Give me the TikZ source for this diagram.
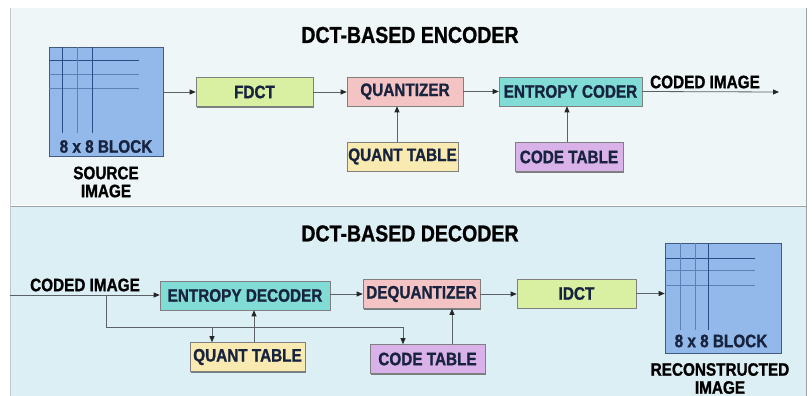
\documentclass[tikz,border=0pt]{standalone}
\usepackage{fontspec}
\setmainfont{Liberation Sans}
\newfontfamily\cond{Liberation Sans}[FakeStretch=0.85, FakeBold=1.1]
\usetikzlibrary{arrows.meta,shadows}

\definecolor{panelA}{HTML}{EEF6F8}
\definecolor{panelB}{HTML}{DCEFF5}
\definecolor{frame}{HTML}{9AA4A8}
\definecolor{blockblue}{HTML}{92B9EA}
\definecolor{gridline}{HTML}{2B4C86}
\definecolor{gridfaint}{HTML}{5E80B8}
\definecolor{dctgreen}{HTML}{D9F0A3}
\definecolor{qpink}{HTML}{F4C4C4}
\definecolor{entteal}{HTML}{80DCD4}
\definecolor{qyellow}{HTML}{F8EAB0}
\definecolor{cpurple}{HTML}{D8B2E8}
\definecolor{labelink}{HTML}{18243F}
\definecolor{wire}{HTML}{5A6266}

\tikzset{
  lbl/.style={font=\cond\bfseries\fontsize{18}{18}\selectfont},
  ttl/.style={font=\cond\bfseries\fontsize{23}{23}\selectfont, text=black},
  stage/.style={lbl, text=labelink, draw=black!50, line width=0.6pt,
    minimum height=29pt, inner sep=0pt,
    drop shadow={shadow xshift=1.3pt, shadow yshift=-1.3pt, opacity=0.65, fill=black!75}},
  blockimg/.style={fill=blockblue, draw=gridfaint!70!black, line width=0.6pt,
    inner sep=0pt,
    drop shadow={shadow xshift=1.3pt, shadow yshift=-1.3pt, opacity=0.6, fill=black!75}},
  arr/.style={draw=wire, line width=0.8pt,
    -{Triangle[length=6pt,width=5pt,fill=black!85,color=black!85]}},
  wireline/.style={draw=wire, line width=0.8pt},
  gridmain/.style={draw=gridline, line width=1pt},
  gridlite/.style={draw=gridfaint, line width=0.7pt},
}

\begin{document}
\begin{tikzpicture}[x=1pt,y=-1pt]
\useasboundingbox (0,0) rectangle (812,396);
\fill[white] (0,0) rectangle (812,396);

% ---- panels ----
\fill[panelA] (10,8) rectangle (806,205);
\fill[panelB] (10,206.5) rectangle (806,396);
\draw[frame, line width=0.8pt] (10,206) -- (806,206);
\draw[frame, line width=0.8pt] (806,8) -- (806,396);
\draw[frame!60, line width=0.5pt] (10,8) -- (10,396);

% ================= encoder =================
\node[ttl] (enctitle) at (410,35) {DCT-BASED ENCODER};

% source image block
\node[blockimg, minimum width=114pt, minimum height=109pt] (src) at (106,101.5) {};
\draw[gridlite] (49,74) -- (139,74);
\draw[gridlite] (49,88) -- (139,88);
\draw[gridmain] (49,61) -- (139,61);
\draw[gridmain] (62,47) -- (62,133);
\draw[gridlite] (77,47) -- (77,133);
\draw[gridmain] (92,47) -- (92,133);
\node[lbl, text=labelink] (srclbl) at (106,146.5) {8 x 8 BLOCK};
\node[lbl, text=black, align=center, inner sep=0pt] (srcname) at (106,182)
  {SOURCE\\[0pt]IMAGE};

\node[stage, fill=dctgreen, minimum width=117pt] (fdct) at (254.5,92) {FDCT};
\node[stage, fill=qpink, minimum width=116pt] (quant) at (405,91.5) {QUANTIZER};
\node[stage, fill=entteal, minimum width=143pt] (enc) at (570.5,91.5) {ENTROPY CODER};
\node[stage, fill=qyellow, minimum width=111pt] (qtab1) at (402.5,156.5) {QUANT TABLE};
\node[stage, fill=cpurple, minimum width=108pt] (ctab1) at (569,157) {CODE TABLE};

\node[lbl, text=black, inner sep=0pt] (codedout) at (705,82) {CODED IMAGE};
\coordinate (encout) at (779,92);

\draw[arr] (src.east |- fdct.west) -- (fdct.west);
\draw[arr] (fdct.east) -- (fdct.east -| quant.west);
\draw[arr] (quant.east) -- (quant.east -| enc.west);
\draw[arr] (enc.east) -- (encout);
\draw[arr] (397,0 |- qtab1.north) -- (397,0 |- quant.south);
\draw[arr] (567,0 |- ctab1.north) -- (567,0 |- enc.south);

% ================= decoder =================
\node[ttl] (dectitle) at (410,233.5) {DCT-BASED DECODER};

\node[lbl, text=black, inner sep=0pt] (codedin) at (85,285) {CODED IMAGE};
\coordinate (decin) at (10,295);

\node[stage, fill=entteal, minimum width=170pt] (dec) at (245,295.5) {ENTROPY DECODER};
\node[stage, fill=qpink, minimum width=117pt] (dequant) at (421.5,294) {DEQUANTIZER};
\node[stage, fill=dctgreen, minimum width=119pt] (idct) at (576.5,293.5) {IDCT};
\node[stage, fill=qyellow, minimum width=115pt] (qtab2) at (247.5,357) {QUANT TABLE};
\node[stage, fill=cpurple, minimum width=115pt] (ctab2) at (427.5,359) {CODE TABLE};

% reconstructed image block
\node[blockimg, minimum width=116pt, minimum height=110pt] (rec) at (723,298) {};
\draw[gridlite] (665,270) -- (755,270);
\draw[gridlite] (665,285) -- (755,285);
\draw[gridmain] (665,258) -- (755,258);
\draw[gridlite] (680,243) -- (680,330);
\draw[gridlite] (695,243) -- (695,330);
\draw[gridmain] (708,243) -- (708,330);
\node[lbl, text=labelink] (reclbl) at (721,341) {8 x 8 BLOCK};
\node[lbl, text=black, align=center, inner sep=0pt] (recname) at (720,378.5)
  {RECONSTRUCTED\\[0pt]IMAGE};

% decoder connectors
\draw[arr] (decin) -- (decin -| dec.west);
\coordinate (split) at (106,295);
\coordinate (brdown) at (106,327);
\coordinate (brq) at (212,327);
\coordinate (brc) at (403,327);
\draw[wireline] (split) -- (brdown) -- (brc);
\draw[arr] (brq) -- (brq |- qtab2.north);
\draw[arr] (brc) -- (brc |- ctab2.north);
\draw[arr] (254,0 |- qtab2.north) -- (254,0 |- dec.south);
\draw[arr] (452,0 |- ctab2.north) -- (452,0 |- dequant.south);
\draw[arr] (dec.east |- 0,294) -- (dequant.west);
\draw[arr] (dequant.east) -- (dequant.east -| idct.west);
\draw[arr] (idct.east) -- (idct.east -| rec.west);
\end{tikzpicture}
\end{document}
